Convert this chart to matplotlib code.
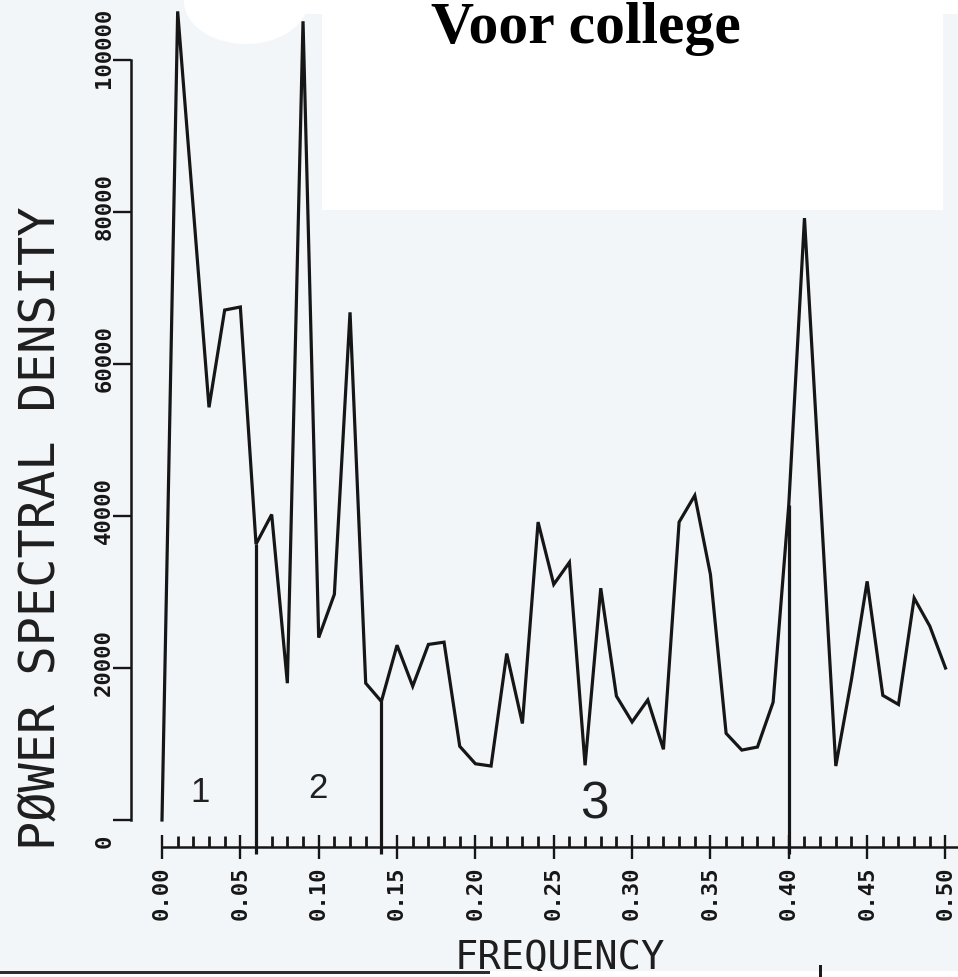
import numpy as np
import matplotlib
matplotlib.use("Agg")
import matplotlib.pyplot as plt
from matplotlib.patches import Rectangle, Ellipse
from matplotlib.transforms import ScaledTranslation

# periodogram ordinates, one per frequency step of 0.01 cycles/sample
freq = np.linspace(0.0, 0.5, 51)
psd = [0, 106400, 80400, 54300, 67100, 67500, 36300, 40200, 18000, 105100,
       24000, 29700, 66800, 18000, 15600, 23000, 17600, 23100, 23400, 9700,
       7400, 7100, 21900, 12700, 39200, 31000, 33900, 7200, 30500, 16300,
       12900, 15800, 9300, 39200, 42700, 32300, 11400, 9200, 9600, 15500,
       41500, 79200, 43200, 7100, 18500, 31400, 16400, 15200, 29200, 25500,
       20000]

# band boundaries and the hand-written band numbers
band_edges = [0.06, 0.14, 0.40]
band_names = ["1", "2", "3"]
band_label_pos = [(0.0243, 3800), (0.0996, 4300), (0.2757, 2100)]
band_label_size = [25, 25, 37]

xticks = [0.00, 0.05, 0.10, 0.15, 0.20, 0.25, 0.30, 0.35, 0.40, 0.45, 0.50]
yticks = [0, 20000, 40000, 60000, 80000, 100000]

W, H = 958, 978
INK = "#161616"
PAPER = "#f3f6f9"
MONO = "DejaVu Sans Mono"

fig = plt.figure(figsize=(W / 100, H / 100), dpi=100, facecolor=PAPER)
ax = fig.add_axes([0, 0, 1, 1])
ax.set_facecolor("none")
ax.set_xlim(-0.10338, 0.50798)
ax.set_ylim(-20658, 108026)

x_axis_at = -3550
ax.plot(freq, psd, color=INK, lw=2.3, solid_joinstyle="miter", zorder=3)
edge_vals = [psd[int(round(e * 100))] for e in band_edges]
ax.vlines(band_edges, x_axis_at - 900, edge_vals, color=INK, lw=2.3, zorder=3)

for name, (bx, by), fs in zip(band_names, band_label_pos, band_label_size):
    ax.text(bx, by, name, fontsize=fs, family="Liberation Sans", color="#202020",
            ha="center", va="center")

for side in ("top", "right"):
    ax.spines[side].set_visible(False)
ax.spines["left"].set_position(("data", -0.0198))
ax.spines["left"].set_bounds(0, 100000)
ax.spines["bottom"].set_position(("data", x_axis_at))
ax.spines["bottom"].set_bounds(0, 0.53)
for side in ("left", "bottom"):
    ax.spines[side].set_linewidth(1.8)
    ax.spines[side].set_color(INK)

ax.set_xticks(xticks)
ax.set_xticklabels([f"{t:.2f}" for t in xticks])
ax.set_xticks(np.linspace(0.0, 0.5, 51), minor=True)
ax.set_yticks(yticks)
ax.set_yticklabels([str(t) for t in yticks])

ax.tick_params(axis="x", which="major", direction="inout", length=17, width=1.7,
               pad=5, labelrotation=90, labelsize=16, colors=INK)
ax.tick_params(axis="x", which="minor", direction="in", length=8, width=2.0, colors=INK)
ax.tick_params(axis="y", which="major", direction="out", length=13, width=1.7,
               pad=2, labelsize=16, colors=INK)
for lab in ax.get_xticklabels():
    lab.set_family(MONO)
    lab.set_weight("bold")

# y labels run upward from just below their tick
shift = ScaledTranslation(0, -0.27, fig.dpi_scale_trans)
for lab in ax.get_yticklabels():
    lab.set_family(MONO)
    lab.set_weight("bold")
    lab.set_rotation(90)
    lab.set_rotation_mode("anchor")
    lab.set_ha("left")
    lab.set_va("baseline")
    lab.set_transform(lab.get_transform() + shift)

ax.set_ylabel("PØWER SPECTRAL DENSITY", family=MONO, fontsize=35, color="#1e1e1e")
ax.yaxis.set_label_coords(65 / W, 0.46)
ax.set_xlabel("FREQUENCY", family=MONO, fontsize=28, color="#1e1e1e")
ax.xaxis.label.set_va("baseline")
ax.xaxis.set_label_coords(560 / W, (H - 969) / H)

# white paste-over with the heading, plus scanner edges
def fbox(x0, y0, x1, y1, **kw):
    return Rectangle((x0 / W, 1 - y1 / H), (x1 - x0) / W, (y1 - y0) / H,
                     transform=fig.transFigure, **kw)

fig.patches.append(fbox(322, 0, 943, 211, facecolor="white", edgecolor="none", zorder=10))
fig.patches.append(fbox(300, 0, W, 15, facecolor="white", edgecolor="none", zorder=10))
fig.patches.append(Ellipse((246 / W, 1 - 2 / H), 124 / W, 86 / H, transform=fig.transFigure,
                           facecolor="white", edgecolor="none", zorder=10))
fig.patches.append(fbox(0, 972, W, H, facecolor="white", edgecolor="none", zorder=10))
fig.patches.append(fbox(0, 972, 490, 975, facecolor="#2e2e2e", edgecolor="none", zorder=11))
fig.patches.append(fbox(819, 966, 822, H, facecolor="#1a1a1a", edgecolor="none", zorder=11))

fig.text(586 / W, 1 - 43 / H, "Voor college", family="Liberation Serif", weight="bold",
         fontsize=43, color="black", ha="center", va="baseline", zorder=12)

fig.savefig("out.png", dpi=100, facecolor=fig.get_facecolor())
